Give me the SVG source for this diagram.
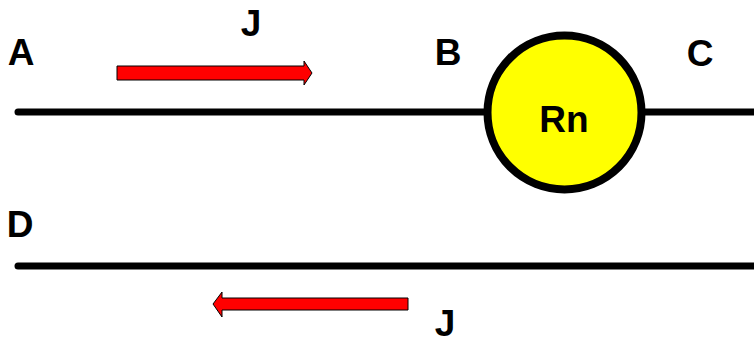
<svg xmlns="http://www.w3.org/2000/svg" width="754" height="344" viewBox="0 0 754 344">
<style>
.lbl{font-family:"Liberation Sans",Arial,sans-serif;font-weight:bold;font-size:37px;fill:#000;text-anchor:middle}
.wire{stroke:#000;stroke-width:7;stroke-linecap:round;fill:none}
.arr{fill:#ff0000;stroke:#000;stroke-width:1}
</style>
<rect width="754" height="344" fill="#fff"/>
<g id="connectors">
<line class="wire" x1="18" y1="112" x2="490" y2="112"/>
<line class="wire" x1="640" y1="112" x2="760" y2="112"/>
<line class="wire" x1="18" y1="266" x2="760" y2="266"/>
</g>
<g id="Rn">
<circle cx="564.5" cy="112.5" r="77" fill="#ffff00" stroke="#000" stroke-width="8"/>
<text class="lbl" x="564" y="132">Rn</text>
</g>
<g id="arrowJtop">
<polygon class="arr" points="117,66 304,66 304,61 312,73 304,85 304,80 117,80"/>
</g>
<g id="arrowJbottom">
<polygon class="arr" points="408,298 222,298 222,292 213,304 222,317 222,310 408,310"/>
</g>
<g id="labels">
<text class="lbl" x="21" y="65">A</text>
<text class="lbl" x="251" y="36">J</text>
<text class="lbl" x="448" y="65">B</text>
<text class="lbl" x="700" y="66">C</text>
<text class="lbl" x="20" y="237">D</text>
<text class="lbl" x="445" y="336">J</text>
</g>
</svg>
